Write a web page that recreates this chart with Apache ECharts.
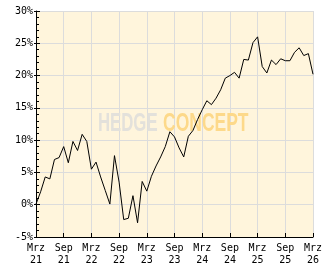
<!DOCTYPE html>
<html><head><meta charset="utf-8">
<script src="https://cdn.jsdelivr.net/npm/echarts@6/dist/echarts.min.js"></script>
<style>html,body{margin:0;padding:0;background:#fff}#c{width:332px;height:269px}</style>
</head><body><div id="c"></div>
<script>
const tickLabels = ["Mrz\n21","Sep\n21","Mrz\n22","Sep\n22","Mrz\n23","Sep\n23","Mrz\n24","Sep\n24","Mrz\n25","Sep\n25","Mrz\n26"];
const monthIndex = Array.from({length:61},(_,i)=>i);
const values = [0.1,2.0,4.3,4.0,7.0,7.3,9.0,6.5,9.8,8.4,10.9,9.8,5.5,6.6,4.3,2.2,0.1,7.6,3.5,-2.3,-2.1,1.4,-2.8,3.6,2.1,4.4,6.0,7.4,9.0,11.3,10.5,8.8,7.4,10.6,11.5,13.2,14.7,16.1,15.5,16.5,17.8,19.6,20.0,20.5,19.6,22.5,22.4,25.1,26.0,21.4,20.4,22.4,21.7,22.6,22.3,22.3,23.6,24.3,23.1,23.4,20.2];
const chart = echarts.init(document.getElementById('c'));
const font = 'DejaVu Sans Mono';
const wm = {fontFamily:'Liberation Sans',fontWeight:'bold',fontSize:25,textVerticalAlign:'middle'};
chart.setOption({
  animation:false,
  grid:{left:36,right:19,top:11,bottom:32,show:true,backgroundColor:'#fff5dc',borderWidth:0},
  graphic:[
    {type:'text',x:98,y:124,scaleX:0.67,z:1,silent:true,style:Object.assign({text:'HEDGE',fill:'#e3e1db'},wm)},
    {type:'text',x:163,y:124,scaleX:0.70,z:1,silent:true,style:Object.assign({text:'CONCEPT',fill:'#fdd98a'},wm)}
  ],
  xAxis:{type:'value',min:0,max:60,interval:6,
    axisLine:{onZero:false,lineStyle:{color:'#000',width:1}},
    axisTick:{show:true,inside:true,length:4,lineStyle:{color:'#000',width:1}},
    splitLine:{show:true,lineStyle:{color:'#dcdcdc',width:1}},
    axisLabel:{margin:5,color:'#000',fontFamily:font,fontSize:10,lineHeight:12,
      formatter:v=>tickLabels[Math.round(v/6)]}},
  yAxis:[{type:'value',min:-5,max:30,interval:5,
    axisLine:{show:true,onZero:false,lineStyle:{color:'#000',width:1}},
    axisTick:{show:true,inside:true,length:4,lineStyle:{color:'#000'}},
    splitLine:{show:true,lineStyle:{color:'#dcdcdc',width:1}},
    axisLabel:{margin:3,color:'#000',fontFamily:font,fontSize:10,formatter:v=>v+'%'}},
   {type:'value',min:-5,max:30,interval:1,position:'left',
    axisLine:{show:false,onZero:false},axisTick:{show:true,inside:true,length:3,lineStyle:{color:'#000',width:1}},
    axisLabel:{show:false},splitLine:{show:false}},
   {type:'value',min:-5,max:30,interval:5,position:'left',
    axisLine:{show:false,onZero:false},axisTick:{show:true,inside:false,length:2,lineStyle:{color:'#000'}},
    axisLabel:{show:false},splitLine:{show:false}}],
  series:[{type:'line',data:monthIndex.map((m,i)=>[m,values[i]]),showSymbol:false,z:3,
    lineStyle:{color:'#000',width:1}}]
});
</script></body></html>
